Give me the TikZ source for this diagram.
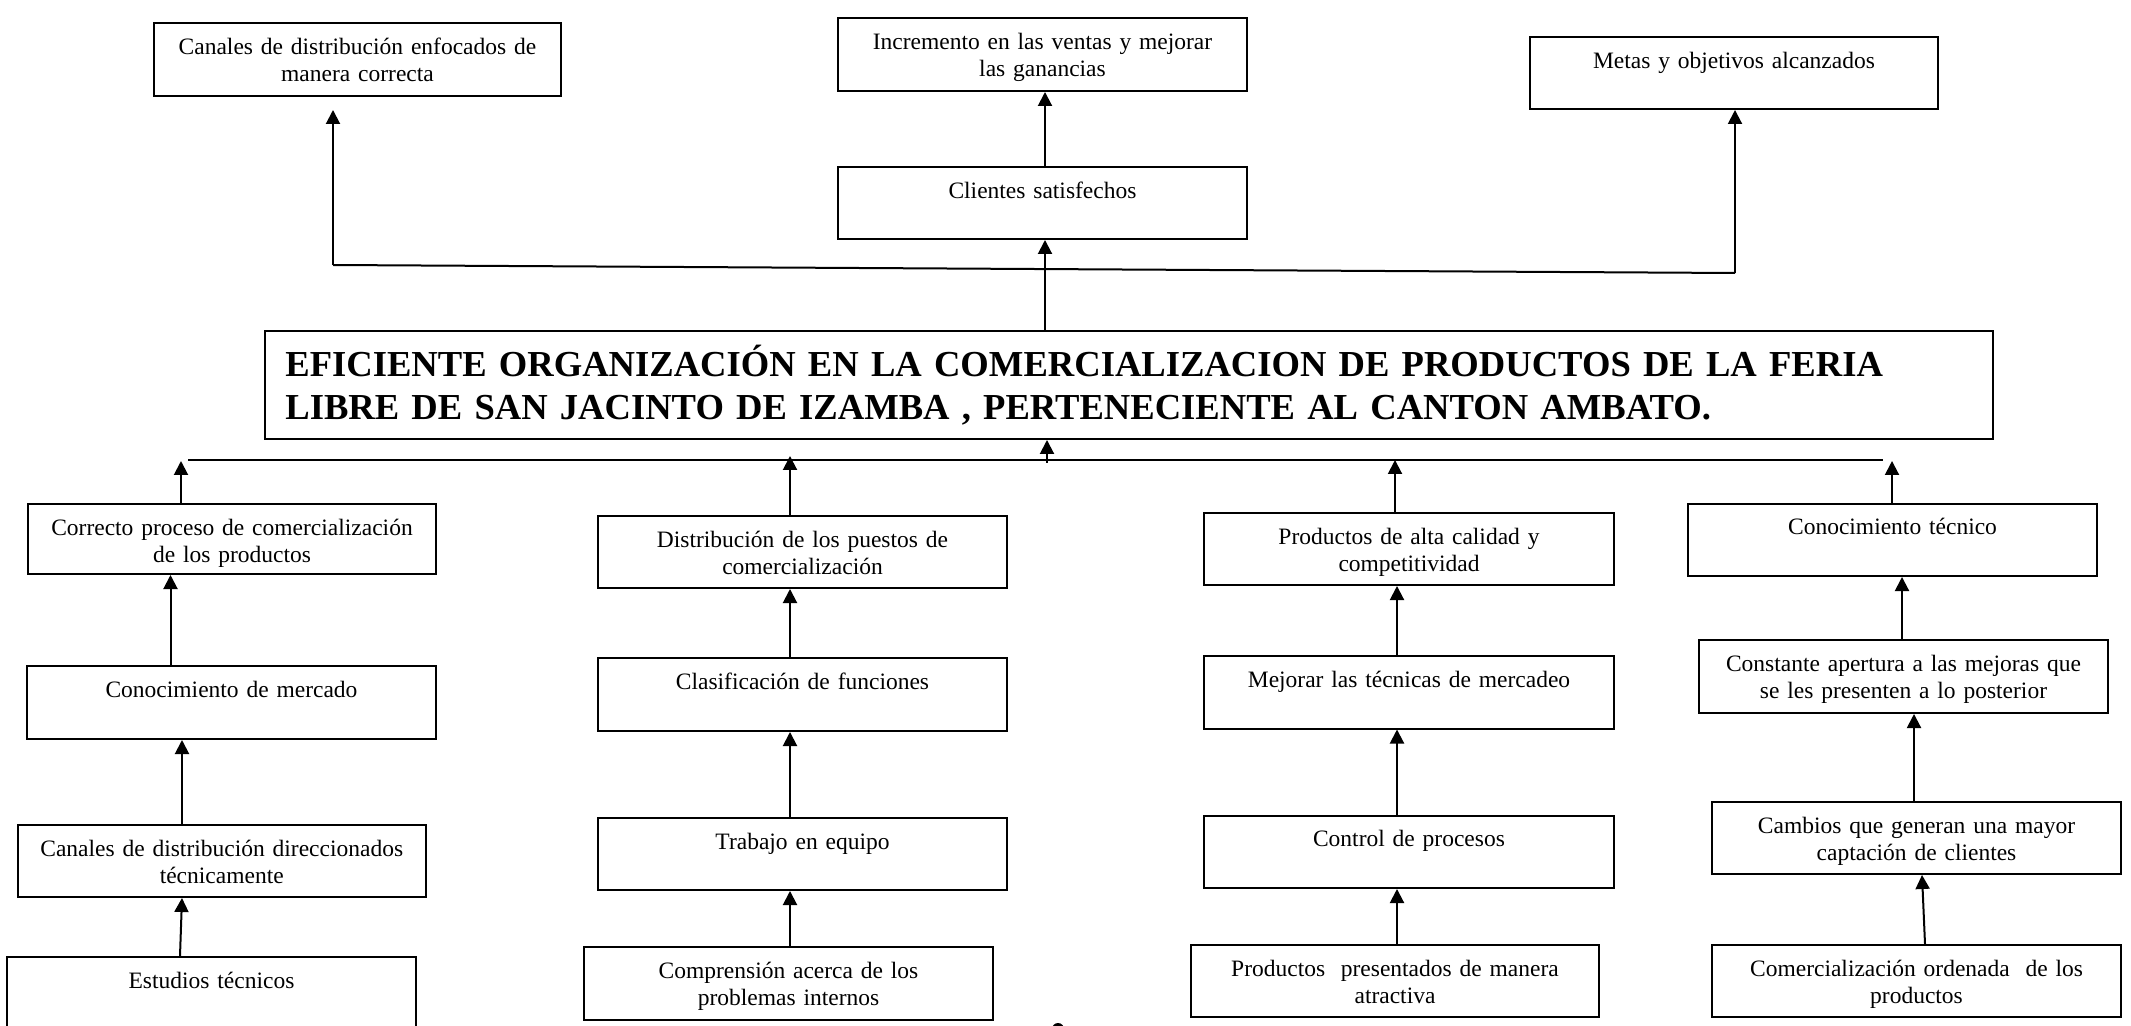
\documentclass[tikz,border=0pt]{standalone}
\usepackage{fontspec}
\setmainfont{Liberation Serif}
\usetikzlibrary{arrows.meta,calc}
\tikzset{
  boxst/.style={draw, line width=1pt, rectangle, inner sep=0pt},
  txtst/.style={anchor=base, align=center, inner sep=0pt, text width=230pt,
    font=\fontsize{11.75}{13.35}\selectfont},
  conn/.style={line width=1pt},
  arr/.style={line width=1pt, -{Triangle[length=7pt,width=7pt]}},
}
\newcommand{\pbox}[6]{%
  \node[boxst, minimum width={(#4-#2)*0.5pt}, minimum height={(#5-#3)*0.5pt}] (#1) at ({(#2+#4)/2},{(#3+#5)/2}) {};
  \node[txtst] (#1t) at ($(#1.north)+(0,32.4)$) {#6};}
\begin{document}
\begin{tikzpicture}[x=0.5pt,y=-0.5pt]
\useasboundingbox (0,0) rectangle (2131,1026);
% top boxes
\pbox{tA}{154}{23}{561}{96}{Canales de distribución enfocados de\\manera correcta}
\pbox{tB}{838}{18}{1247}{91}{Incremento en las ventas y mejorar\\las ganancias}
\pbox{tC}{838}{167}{1247}{239}{Clientes satisfechos}
\pbox{tD}{1530}{37}{1938}{109}{Metas y objetivos alcanzados}
% main box
\node[boxst, minimum width={(1993-265)*0.5pt}, minimum height={(439-331)*0.5pt}] (main) at ({(265+1993)/2},{(331+439)/2}) {};
\node[anchor=base west, inner sep=0pt, align=left, text width=860pt,
  font=\fontsize{18.3}{21.25}\selectfont\bfseries] (maint) at (285,376.7)
  {EFICIENTE ORGANIZACIÓN EN LA COMERCIALIZACION DE PRODUCTOS DE LA FERIA\\LIBRE DE SAN JACINTO DE IZAMBA , PERTENECIENTE AL CANTON AMBATO.};
% column 1
\pbox{cAa}{28}{504}{436}{574}{Correcto proceso de comercialización\\de los productos}
\pbox{cAb}{27}{666}{436}{739}{Conocimiento de mercado}
\pbox{cAc}{17.5}{825}{426}{897}{Canales de distribución direccionados\\técnicamente}
\pbox{cAd}{7}{957}{416}{1030}{Estudios técnicos}
% column 2
\pbox{cBa}{598}{516}{1007}{588}{Distribución de los puestos de\\comercialización}
\pbox{cBb}{598}{658}{1007}{731}{Clasificación de funciones}
\pbox{cBc}{598}{818}{1007}{890}{Trabajo en equipo}
\pbox{cBd}{584}{947}{993}{1020}{Comprensión acerca de los\\problemas internos}
% column 3
\pbox{cCa}{1204}{513}{1614}{585}{Productos de alta calidad y\\competitividad}
\pbox{cCb}{1204}{656}{1614}{728.5}{Mejorar las técnicas de mercadeo}
\pbox{cCc}{1204}{815.5}{1614}{888}{Control de procesos}
\pbox{cCd}{1191}{945}{1599}{1017}{Productos\ \ presentados de manera\\atractiva}
% column 4
\pbox{cDa}{1688}{503.5}{2097}{576}{Conocimiento técnico}
\pbox{cDb}{1699}{640}{2108}{713}{Constante apertura a las mejoras que\\se les presenten a lo posterior}
\pbox{cDc}{1712}{802}{2121}{874}{Cambios que generan una mayor\\captación de clientes}
\pbox{cDd}{1712}{945}{2121}{1017}{Comercialización ordenada\ \ de los\\productos}
% coordinates
\coordinate (hl) at (188,460);
\coordinate (hr) at (1883,460);
\coordinate (hm) at (1047,463);
\coordinate (tl) at (333,265);
\coordinate (tr) at (1735,273);
\coordinate (tAtip) at (333,110);
\coordinate (tDtip) at (1735,110);
\coordinate (pA) at (181,461);
\coordinate (pB) at (790,456);
\coordinate (pC) at (1395,460);
\coordinate (pD) at (1892,461);
% upper connectors
\draw[arr] (1045,0 |- main.north) -- (1045,0 |- tC.south);
\draw[arr] (1045,0 |- tC.north) -- (1045,0 |- tB.south);
\draw[conn] (tl) -- (tr);
\draw[arr] (tl) -- (tAtip);
\draw[arr] (tr) -- (tDtip);
% lower bus
\draw[conn] (hl) -- (hr);
\draw[arr] (hm) -- (1047,0 |- main.south);
\draw[arr] (181,0 |- cAa.north) -- (pA);
\draw[arr] (790,0 |- cBa.north) -- (pB);
\draw[arr] (1395,0 |- cCa.north) -- (pC);
\draw[arr] (1892,0 |- cDa.north) -- (pD);
% column 1 connectors
\draw[arr] (180,0 |- cAd.north) -- (182,0 |- cAc.south);
\draw[arr] (182,0 |- cAc.north) -- (182,0 |- cAb.south);
\draw[arr] (170.5,0 |- cAb.north) -- (170.5,0 |- cAa.south);
% column 2
\draw[arr] (790,0 |- cBd.north) -- (790,0 |- cBc.south);
\draw[arr] (790,0 |- cBc.north) -- (790,0 |- cBb.south);
\draw[arr] (790,0 |- cBb.north) -- (790,0 |- cBa.south);
% column 3
\draw[arr] (1397,0 |- cCd.north) -- (1397,0 |- cCc.south);
\draw[arr] (1397,0 |- cCc.north) -- (1397,0 |- cCb.south);
\draw[arr] (1397,0 |- cCb.north) -- (1397,0 |- cCa.south);
% column 4
\draw[arr] (1925,0 |- cDd.north) -- (1922,0 |- cDc.south);
\draw[arr] (1914,0 |- cDc.north) -- (1914,0 |- cDb.south);
\draw[arr] (1902,0 |- cDb.north) -- (1902,0 |- cDa.south);
% small mark at the bottom edge
\fill (1058,1029) circle[radius=6];
\end{tikzpicture}
\end{document}
